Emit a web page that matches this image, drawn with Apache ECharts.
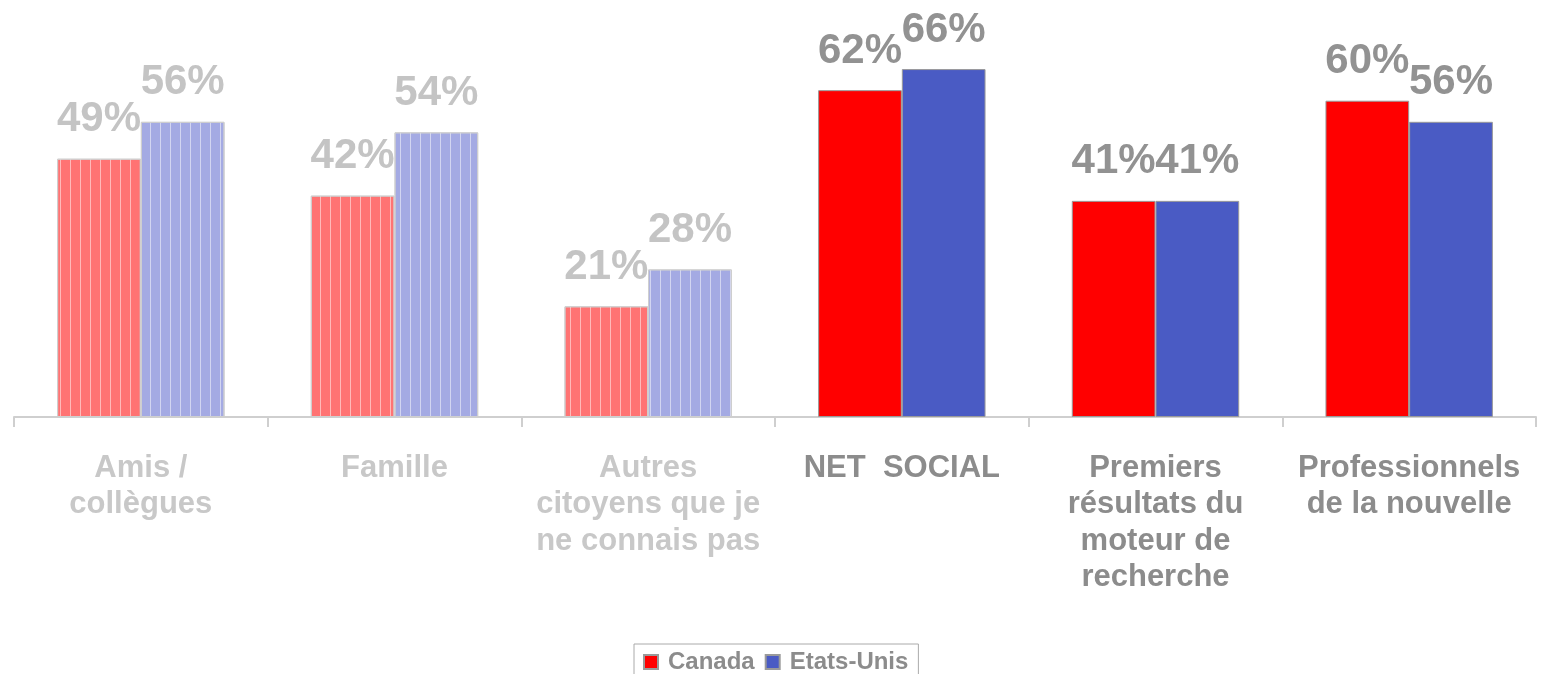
<!DOCTYPE html>
<html>
<head>
<meta charset="utf-8">
<script src="https://cdn.jsdelivr.net/npm/echarts@6/dist/echarts.min.js"></script>
<style>
  html, body { margin: 0; padding: 0; background: #fff; }
  #chart { width: 1545px; height: 674px; }
</style>
</head>
<body>
<div id="chart"></div>
<script>
var categories = ['Amis /\ncollègues', 'Famille', 'Autres\ncitoyens que je\nne connais pas',
                  'NET  SOCIAL', 'Premiers\nrésultats du\nmoteur de\nrecherche', 'Professionnels\nde la nouvelle'];
var canada = [49, 42, 21, 62, 41, 60];
var etatsUnis = [56, 54, 28, 66, 41, 56];
var seriesNames = ['Canada', 'Etats-Unis'];

// the first categories are drawn faded
var fadedCount = 3;

function stripes() {
    return {
        symbol: 'rect',
        symbolSize: 1,
        color: 'rgba(255,255,255,0.5)',
        dashArrayX: [[1, 9]],
        dashArrayY: [10, 0],
        rotation: 0
    };
}

function buildData(values, light) {
    var out = [];
    for (var i = 0; i < values.length; i++) {
        if (i < fadedCount) {
            out.push({
                value: values[i],
                itemStyle: { color: light, borderColor: '#cfcfcf', decal: stripes() },
                label: { color: '#c4c4c4' }
            });
        } else {
            out.push({ value: values[i] });
        }
    }
    return out;
}

var axisData = [];
for (var i = 0; i < categories.length; i++) {
    axisData.push({
        value: categories[i],
        textStyle: { color: i < fadedCount ? '#c8c8c8' : '#8c8c8c' }
    });
}

var myChart = echarts.init(document.getElementById('chart'));
var font = '"Liberation Sans", Arial, sans-serif';

var labelStyle = {
    show: true,
    position: 'top',
    distance: 18,
    formatter: '{c}%',
    fontFamily: font,
    fontWeight: 'bold',
    fontSize: 42,
    color: '#929292'
};

var option = {
    animation: false,
    aria: { enabled: false },
    legend: {
        data: seriesNames,
        bottom: -6,
        left: 634,
        icon: 'rect',
        itemWidth: 14,
        itemHeight: 14,
        itemGap: 10,
        padding: [6, 10, 6, 9],
        borderColor: '#aaaaaa',
        borderWidth: 1,
        textStyle: {
            fontFamily: font,
            fontWeight: 'bold',
            fontSize: 24,
            color: '#8c8c8c',
            padding: [0, 0, 0, 5]
        }
    },
    grid: {
        left: 14,
        right: 9,
        top: 48,
        bottom: 257
    },
    xAxis: {
        type: 'category',
        data: axisData,
        axisLine: { show: true, lineStyle: { color: '#cfcfcf', width: 2 } },
        axisTick: { show: true, length: 10, lineStyle: { color: '#cfcfcf', width: 2 } },
        axisLabel: {
            interval: 0,
            margin: 33,
            fontFamily: font,
            fontWeight: 'bold',
            fontSize: 31,
            lineHeight: 36.5,
            verticalAlign: 'top'
        }
    },
    yAxis: {
        type: 'value',
        min: 0,
        max: 70,
        show: false,
        splitLine: { show: false }
    },
    series: [
        {
            name: seriesNames[0],
            type: 'bar',
            barGap: '0%',
            barCategoryGap: '34%',
            itemStyle: { color: '#ff0000', borderColor: '#9a9a9a', borderWidth: 1 },
            label: labelStyle,
            data: buildData(canada, '#ff7373')
        },
        {
            name: seriesNames[1],
            type: 'bar',
            barGap: '0%',
            barCategoryGap: '34%',
            itemStyle: { color: '#4a5bc4', borderColor: '#9a9a9a', borderWidth: 1 },
            label: labelStyle,
            data: buildData(etatsUnis, '#a4aae3')
        }
    ]
};

myChart.setOption(option);
</script>
</body>
</html>
